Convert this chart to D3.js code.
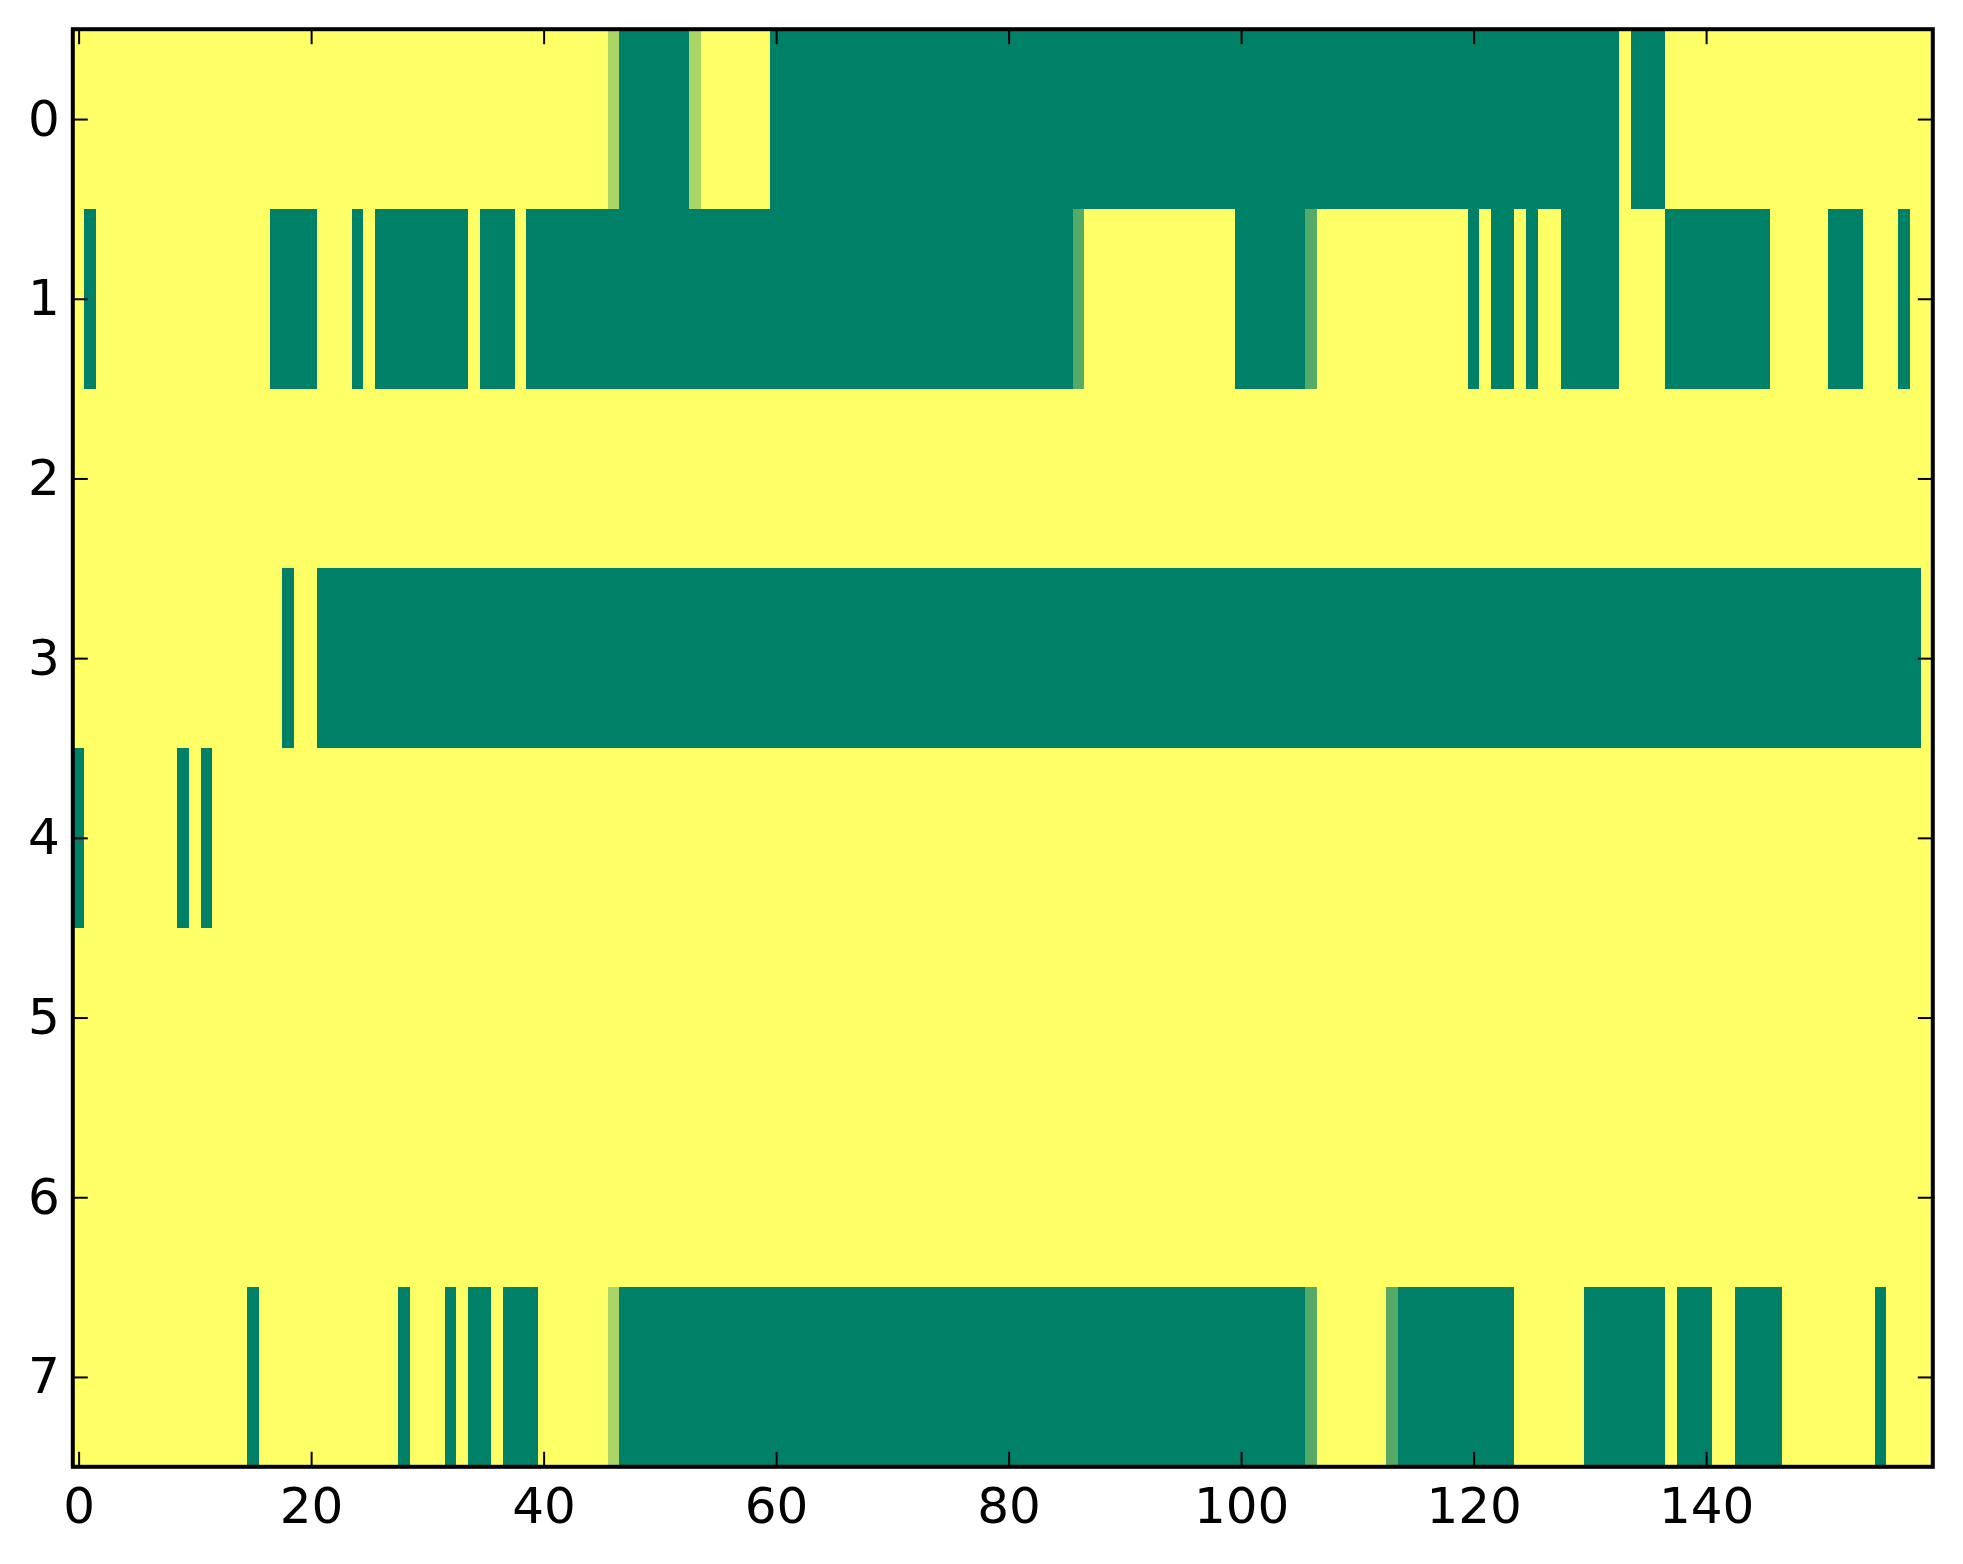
<!DOCTYPE html>
<html lang="en">

<head>
  <meta charset="UTF-8">
  <title>Heatmap</title>
  <script src="https://cdnjs.cloudflare.com/ajax/libs/d3/7.8.5/d3.min.js"></script>
  <style>
    body { margin: 0; background: #fff; }
    svg { display: block; }
  </style>
</head>

<body>
  <svg></svg>
  <script>
    // cell values, 0 = green ... 1 = yellow (summer colormap)
    // each row is a list of runs: [value, number of cells]
    const nCols = 160;
    const rowLabels = [0, 1, 2, 3, 4, 5, 6, 7];
    const xTicks = [0, 20, 40, 60, 80, 100, 120, 140];

    const row0 = [[1, 46], [0.67, 1], [0, 6], [0.67, 1], [1, 6], [0, 73], [1, 1], [0, 3], [1, 23]];
    const row1 = [[1, 1], [0, 1], [1, 15], [0, 4], [1, 3], [0, 1], [1, 1], [0, 8], [1, 1], [0, 3], [1, 1],
      [0, 47], [0.33, 1], [1, 13], [0, 6], [0.33, 1], [1, 13], [0, 1], [1, 1], [0, 2], [1, 1], [0, 1],
      [1, 2], [0, 5], [1, 4], [0, 9], [1, 5], [0, 3], [1, 3], [0, 1], [1, 2]];
    const row2 = [[1, 160]];
    const row3 = [[1, 18], [0, 1], [1, 2], [0, 138], [1, 1]];
    const row4 = [[0, 1], [1, 8], [0, 1], [1, 1], [0, 1], [1, 148]];
    const row5 = [[1, 160]];
    const row6 = [[1, 160]];
    const row7 = [[1, 15], [0, 1], [1, 12], [0, 1], [1, 3], [0, 1], [1, 1], [0, 2], [1, 1], [0, 3], [1, 6],
      [0.67, 1], [0, 59], [0.33, 1], [1, 6], [0.33, 1], [0, 10], [1, 6], [0, 7], [1, 1], [0, 3], [1, 2],
      [0, 4], [1, 8], [0, 1], [1, 4]];

    const rows = [row0, row1, row2, row3, row4, row5, row6, row7];

    const width = 1963, height = 1564;
    const plotLeft = 72.8, plotRight = 1932.8, plotTop = 29.2, plotBottom = 1466.8;

    const svg = d3.select('svg').attr('width', width).attr('height', height);

    const x = d3.scaleLinear().domain([-0.5, nCols - 0.5]).range([plotLeft, plotRight]);
    const y = d3.scaleLinear().domain([-0.5, rows.length - 0.5]).range([plotTop, plotBottom]);
    const color = d3.scaleLinear().domain([0, 1]).range(['#008066', '#ffff66']);

    // turn runs into segments with a start column
    const cells = [];
    rows.forEach((runs, r) => {
      let c = 0;
      runs.forEach(([v, n]) => {
        cells.push({ row: r, start: c, len: n, value: v });
        c += n;
      });
    });

    svg.append('g')
      .selectAll('rect')
      .data(cells)
      .enter()
      .append('rect')
      .attr('x', d => x(d.start - 0.5))
      .attr('width', d => x(d.start + d.len - 0.5) - x(d.start - 0.5))
      .attr('y', d => y(d.row - 0.5))
      .attr('height', d => y(d.row + 0.5) - y(d.row - 0.5))
      .attr('fill', d => color(d.value))
      .attr('shape-rendering', 'crispEdges');

    const font = '"DejaVu Sans", sans-serif';
    const tickLen = 15;

    function styleAxis(g, labels) {
      g.select('.domain').remove();
      g.selectAll('.tick line').attr('stroke', '#000').attr('stroke-width', 2);
      g.selectAll('.tick text')
        .attr('fill', '#000')
        .style('font-family', font)
        .style('font-size', '50px');
      if (!labels) g.selectAll('.tick text').remove();
    }

    svg.append('g')
      .attr('transform', `translate(0,${plotBottom})`)
      .call(d3.axisBottom(x).tickValues(xTicks).tickSizeInner(-tickLen).tickSizeOuter(0).tickPadding(21))
      .call(g => styleAxis(g, true));

    svg.append('g')
      .attr('transform', `translate(0,${plotTop})`)
      .call(d3.axisTop(x).tickValues(xTicks).tickSizeInner(-tickLen).tickSizeOuter(0))
      .call(g => styleAxis(g, false));

    svg.append('g')
      .attr('transform', `translate(${plotLeft},0)`)
      .call(d3.axisLeft(y).tickValues(rowLabels).tickSizeInner(-tickLen).tickSizeOuter(0).tickPadding(13))
      .call(g => styleAxis(g, true));

    svg.append('g')
      .attr('transform', `translate(${plotRight},0)`)
      .call(d3.axisRight(y).tickValues(rowLabels).tickSizeInner(-tickLen).tickSizeOuter(0))
      .call(g => styleAxis(g, false));

    // frame
    svg.append('rect')
      .attr('x', plotLeft)
      .attr('y', plotTop)
      .attr('width', plotRight - plotLeft)
      .attr('height', plotBottom - plotTop)
      .attr('fill', 'none')
      .attr('stroke', '#000')
      .attr('stroke-width', 4);
  </script>
</body>

</html>
